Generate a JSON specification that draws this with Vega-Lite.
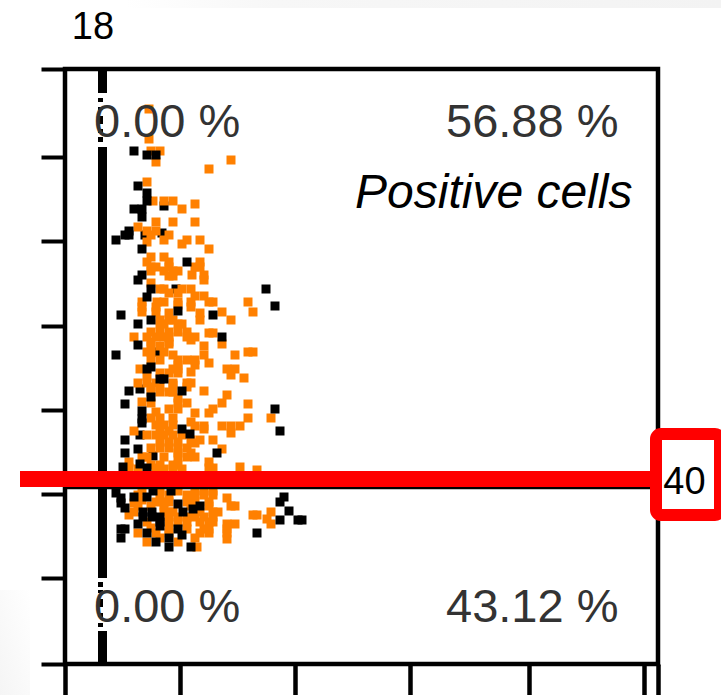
{
"$schema":"https://vega.github.io/schema/vega-lite/v6.json",
"width":593,"height":595,
"autosize":"none",
"padding":{"left":65,"top":69,"right":63,"bottom":31},
"background":"white",
"view":{"stroke":"#000","strokeWidth":4.5},
"datasets":{"pts":[
{"x":99,"y":458,"s":"k"},{"x":80,"y":429,"s":"k"},{"x":97,"y":431,"s":"k"},{"x":111,"y":375,"s":"k"},{"x":91,"y":312,"s":"k"},{"x":75,"y":229,"s":"k"},{"x":75,"y":275,"s":"k"},{"x":88,"y":208,"s":"k"},
{"x":84,"y":555,"s":"o"},{"x":84,"y":525,"s":"o"},{"x":86,"y":513,"s":"o"},{"x":95,"y":513,"s":"o"},{"x":91,"y":502,"s":"o"},{"x":166,"y":504,"s":"o"},{"x":144,"y":495,"s":"o"},{"x":82,"y":482,"s":"o"},{"x":88,"y":463,"s":"o"},{"x":99,"y":463,"s":"o"},{"x":108,"y":463,"s":"o"},{"x":130,"y":460,"s":"o"},{"x":117,"y":455,"s":"o"},{"x":91,"y":442,"s":"o"},{"x":108,"y":442,"s":"o"},{"x":130,"y":442,"s":"o"},{"x":73,"y":437,"s":"o"},{"x":82,"y":433,"s":"o"},{"x":91,"y":433,"s":"o"},{"x":86,"y":429,"s":"o"},{"x":104,"y":429,"s":"o"},{"x":99,"y":424,"s":"o"},{"x":82,"y":422,"s":"o"},{"x":122,"y":424,"s":"o"},{"x":135,"y":424,"s":"o"},{"x":117,"y":420,"s":"o"},{"x":144,"y":415,"s":"o"},{"x":86,"y":407,"s":"o"},{"x":99,"y":407,"s":"o"},{"x":82,"y":402,"s":"o"},{"x":104,"y":402,"s":"o"},{"x":135,"y":402,"s":"o"},{"x":86,"y":397,"s":"o"},{"x":91,"y":397,"s":"o"},{"x":104,"y":397,"s":"o"},{"x":130,"y":397,"s":"o"},{"x":135,"y":397,"s":"o"},{"x":86,"y":393,"s":"o"},{"x":99,"y":393,"s":"o"},{"x":108,"y":393,"s":"o"},{"x":113,"y":393,"s":"o"},{"x":127,"y":389,"s":"o"},{"x":139,"y":389,"s":"o"},{"x":104,"y":388,"s":"o"},{"x":108,"y":388,"s":"o"},{"x":86,"y":381,"s":"o"},{"x":139,"y":384,"s":"o"},{"x":95,"y":375,"s":"o"},{"x":99,"y":375,"s":"o"},{"x":117,"y":375,"s":"o"},{"x":126,"y":375,"s":"o"},{"x":104,"y":371,"s":"o"},{"x":113,"y":371,"s":"o"},{"x":130,"y":368,"s":"o"},{"x":139,"y":368,"s":"o"},{"x":77,"y":362,"s":"o"},{"x":92,"y":362,"s":"o"},{"x":99,"y":362,"s":"o"},{"x":113,"y":362,"s":"o"},{"x":126,"y":362,"s":"o"},{"x":144,"y":362,"s":"o"},{"x":148,"y":362,"s":"o"},{"x":183,"y":362,"s":"o"},{"x":77,"y":357,"s":"o"},{"x":91,"y":357,"s":"o"},{"x":113,"y":359,"s":"o"},{"x":126,"y":357,"s":"o"},{"x":77,"y":352,"s":"o"},{"x":91,"y":352,"s":"o"},{"x":104,"y":351,"s":"o"},{"x":135,"y":351,"s":"o"},{"x":157,"y":352,"s":"o"},{"x":188,"y":352,"s":"o"},{"x":95,"y":344,"s":"o"},{"x":104,"y":344,"s":"o"},{"x":108,"y":344,"s":"o"},{"x":135,"y":344,"s":"o"},{"x":166,"y":344,"s":"o"},{"x":95,"y":340,"s":"o"},{"x":99,"y":340,"s":"o"},{"x":113,"y":340,"s":"o"},{"x":117,"y":340,"s":"o"},{"x":86,"y":332,"s":"o"},{"x":95,"y":332,"s":"o"},{"x":104,"y":332,"s":"o"},{"x":113,"y":332,"s":"o"},{"x":122,"y":332,"s":"o"},{"x":144,"y":331,"s":"o"},{"x":148,"y":331,"s":"o"},{"x":69,"y":327,"s":"o"},{"x":82,"y":327,"s":"o"},{"x":91,"y":327,"s":"o"},{"x":99,"y":327,"s":"o"},{"x":104,"y":327,"s":"o"},{"x":122,"y":327,"s":"o"},{"x":130,"y":327,"s":"o"},
{"x":86,"y":322,"s":"o"},{"x":104,"y":322,"s":"o"},{"x":126,"y":324,"s":"o"},{"x":157,"y":320,"s":"o"},{"x":86,"y":318,"s":"o"},{"x":95,"y":318,"s":"o"},{"x":104,"y":320,"s":"o"},{"x":139,"y":318,"s":"o"},{"x":82,"y":312,"s":"o"},{"x":86,"y":312,"s":"o"},{"x":99,"y":312,"s":"o"},{"x":139,"y":309,"s":"o"},{"x":170,"y":309,"s":"o"},{"x":183,"y":312,"s":"o"},{"x":188,"y":312,"s":"o"},{"x":108,"y":309,"s":"o"},{"x":86,"y":304,"s":"o"},{"x":95,"y":304,"s":"o"},{"x":113,"y":304,"s":"o"},{"x":122,"y":304,"s":"o"},{"x":130,"y":304,"s":"o"},{"x":144,"y":301,"s":"o"},{"x":113,"y":299,"s":"o"},{"x":130,"y":299,"s":"o"},{"x":75,"y":295,"s":"o"},{"x":108,"y":295,"s":"o"},{"x":113,"y":295,"s":"o"},{"x":126,"y":292,"s":"o"},{"x":162,"y":295,"s":"o"},{"x":170,"y":295,"s":"o"},{"x":95,"y":291,"s":"o"},{"x":104,"y":291,"s":"o"},{"x":113,"y":291,"s":"o"},{"x":166,"y":289,"s":"o"},{"x":179,"y":286,"s":"o"},{"x":82,"y":288,"s":"o"},{"x":73,"y":281,"s":"o"},{"x":82,"y":281,"s":"o"},{"x":91,"y":281,"s":"o"},{"x":108,"y":281,"s":"o"},{"x":122,"y":281,"s":"o"},{"x":126,"y":281,"s":"o"},{"x":86,"y":277,"s":"o"},{"x":95,"y":277,"s":"o"},{"x":108,"y":279,"s":"o"},{"x":122,"y":277,"s":"o"},{"x":86,"y":272,"s":"o"},{"x":95,"y":272,"s":"o"},{"x":104,"y":272,"s":"o"},{"x":108,"y":272,"s":"o"},{"x":139,"y":273,"s":"o"},{"x":162,"y":269,"s":"o"},{"x":77,"y":262,"s":"o"},{"x":86,"y":261,"s":"o"},{"x":113,"y":266,"s":"o"},{"x":113,"y":261,"s":"o"},{"x":122,"y":261,"s":"o"},{"x":157,"y":261,"s":"o"},{"x":183,"y":260,"s":"o"},{"x":104,"y":255,"s":"o"},{"x":113,"y":255,"s":"o"},{"x":148,"y":255,"s":"o"},{"x":91,"y":252,"s":"o"},{"x":130,"y":251,"s":"o"},{"x":144,"y":251,"s":"o"},{"x":86,"y":246,"s":"o"},{"x":95,"y":246,"s":"o"},{"x":108,"y":246,"s":"o"},{"x":126,"y":242,"s":"o"},{"x":183,"y":246,"s":"o"},{"x":206,"y":246,"s":"o"},{"x":91,"y":239,"s":"o"},{"x":99,"y":239,"s":"o"},{"x":108,"y":239,"s":"o"},{"x":139,"y":238,"s":"o"},{"x":157,"y":238,"s":"o"},{"x":166,"y":238,"s":"o"},{"x":175,"y":238,"s":"o"},{"x":130,"y":238,"s":"o"},{"x":69,"y":233,"s":"o"},{"x":95,"y":233,"s":"o"},{"x":104,"y":233,"s":"o"},{"x":166,"y":231,"s":"o"},{"x":139,"y":235,"s":"o"},{"x":82,"y":229,"s":"o"},{"x":91,"y":229,"s":"o"},{"x":99,"y":229,"s":"o"},{"x":108,"y":229,"s":"o"},{"x":117,"y":229,"s":"o"},{"x":135,"y":224,"s":"o"},{"x":148,"y":224,"s":"o"},{"x":126,"y":224,"s":"o"},{"x":95,"y":222,"s":"o"},{"x":104,"y":222,"s":"o"},{"x":113,"y":222,"s":"o"},{"x":130,"y":221,"s":"o"},{"x":86,"y":216,"s":"o"},{"x":95,"y":216,"s":"o"},{"x":104,"y":216,"s":"o"},{"x":113,"y":216,"s":"o"},{"x":122,"y":216,"s":"o"},{"x":157,"y":215,"s":"o"},{"x":113,"y":211,"s":"o"},{"x":126,"y":211,"s":"o"},{"x":77,"y":207,"s":"o"},{"x":82,"y":207,"s":"o"},{"x":99,"y":207,"s":"o"},{"x":113,"y":207,"s":"o"},{"x":122,"y":207,"s":"o"},{"x":130,"y":207,"s":"o"},{"x":64,"y":202,"s":"o"},{"x":144,"y":202,"s":"o"},{"x":86,"y":199,"s":"o"},{"x":95,"y":199,"s":"o"},{"x":108,"y":199,"s":"o"},{"x":113,"y":199,"s":"o"},{"x":64,"y":196,"s":"o"},{"x":73,"y":195,"s":"o"},{"x":91,"y":196,"s":"o"},{"x":99,"y":195,"s":"o"},{"x":108,"y":195,"s":"o"},{"x":117,"y":195,"s":"o"},{"x":144,"y":196,"s":"o"},{"x":148,"y":196,"s":"o"},{"x":175,"y":197,"s":"o"},{"x":192,"y":194,"s":"o"},
{"x":77,"y":173,"s":"o"},{"x":95,"y":173,"s":"o"},{"x":113,"y":173,"s":"o"},{"x":130,"y":173,"s":"o"},{"x":139,"y":173,"s":"o"},{"x":148,"y":173,"s":"o"},{"x":73,"y":169,"s":"o"},{"x":95,"y":169,"s":"o"},{"x":104,"y":169,"s":"o"},{"x":122,"y":169,"s":"o"},{"x":130,"y":169,"s":"o"},{"x":139,"y":169,"s":"o"},{"x":148,"y":169,"s":"o"},{"x":162,"y":166,"s":"o"},{"x":69,"y":161,"s":"o"},{"x":77,"y":164,"s":"o"},{"x":91,"y":162,"s":"o"},{"x":99,"y":162,"s":"o"},{"x":104,"y":162,"s":"o"},{"x":122,"y":162,"s":"o"},{"x":130,"y":163,"s":"o"},{"x":144,"y":162,"s":"o"},{"x":73,"y":158,"s":"o"},{"x":86,"y":158,"s":"o"},{"x":99,"y":158,"s":"o"},{"x":126,"y":158,"s":"o"},{"x":144,"y":158,"s":"o"},{"x":166,"y":158,"s":"o"},{"x":170,"y":158,"s":"o"},{"x":64,"y":149,"s":"o"},{"x":69,"y":152,"s":"o"},{"x":99,"y":152,"s":"o"},{"x":104,"y":152,"s":"o"},{"x":108,"y":152,"s":"o"},{"x":135,"y":152,"s":"o"},{"x":148,"y":152,"s":"o"},{"x":153,"y":152,"s":"o"},{"x":188,"y":149,"s":"o"},{"x":192,"y":149,"s":"o"},{"x":206,"y":152,"s":"o"},{"x":104,"y":147,"s":"o"},{"x":113,"y":147,"s":"o"},{"x":122,"y":147,"s":"o"},{"x":130,"y":147,"s":"o"},{"x":139,"y":147,"s":"o"},{"x":148,"y":147,"s":"o"},{"x":202,"y":145,"s":"o"},{"x":82,"y":142,"s":"o"},{"x":104,"y":142,"s":"o"},{"x":113,"y":142,"s":"o"},{"x":122,"y":142,"s":"o"},{"x":135,"y":142,"s":"o"},{"x":144,"y":142,"s":"o"},{"x":148,"y":142,"s":"o"},{"x":162,"y":140,"s":"o"},{"x":170,"y":140,"s":"o"},{"x":206,"y":140,"s":"o"},{"x":86,"y":136,"s":"o"},{"x":104,"y":135,"s":"o"},{"x":122,"y":135,"s":"o"},{"x":139,"y":135,"s":"o"},{"x":144,"y":135,"s":"o"},{"x":162,"y":135,"s":"o"},{"x":73,"y":131,"s":"o"},{"x":91,"y":131,"s":"o"},{"x":104,"y":131,"s":"o"},{"x":135,"y":131,"s":"o"},{"x":144,"y":131,"s":"o"},{"x":162,"y":131,"s":"o"},{"x":82,"y":122,"s":"o"},{"x":95,"y":126,"s":"o"},{"x":113,"y":122,"s":"o"},{"x":130,"y":126,"s":"o"},{"x":162,"y":125,"s":"o"},{"x":132,"y":117,"s":"o"},
{"x":69,"y":513,"s":"k"},{"x":82,"y":509,"s":"k"},{"x":91,"y":509,"s":"k"},{"x":73,"y":478,"s":"k"},{"x":82,"y":471,"s":"k"},{"x":82,"y":463,"s":"k"},{"x":69,"y":455,"s":"k"},{"x":77,"y":455,"s":"k"},{"x":77,"y":447,"s":"k"},{"x":64,"y":433,"s":"k"},{"x":60,"y":429,"s":"k"},{"x":64,"y":429,"s":"k"},{"x":51,"y":424,"s":"k"},{"x":77,"y":415,"s":"k"},{"x":122,"y":402,"s":"k"},{"x":77,"y":389,"s":"k"},{"x":73,"y":384,"s":"k"},{"x":86,"y":375,"s":"k"},{"x":201,"y":375,"s":"k"},{"x":82,"y":367,"s":"k"},{"x":210,"y":358,"s":"k"},{"x":113,"y":353,"s":"k"},{"x":56,"y":349,"s":"k"},{"x":148,"y":349,"s":"k"},{"x":86,"y":344,"s":"k"},{"x":73,"y":340,"s":"k"},{"x":157,"y":327,"s":"k"},
{"x":73,"y":319,"s":"k"},{"x":51,"y":309,"s":"k"},{"x":82,"y":295,"s":"k"},{"x":86,"y":297,"s":"k"},{"x":99,"y":285,"s":"k"},{"x":95,"y":285,"s":"k"},{"x":64,"y":273,"s":"k"},{"x":117,"y":273,"s":"k"},{"x":86,"y":267,"s":"k"},{"x":60,"y":260,"s":"k"},{"x":77,"y":253,"s":"k"},{"x":77,"y":245,"s":"k"},{"x":77,"y":241,"s":"k"},{"x":210,"y":255,"s":"k"},{"x":117,"y":235,"s":"k"},{"x":125,"y":230,"s":"k"},{"x":215,"y":233,"s":"k"},{"x":60,"y":224,"s":"k"},{"x":73,"y":215,"s":"k"},{"x":60,"y":211,"s":"k"},{"x":152,"y":211,"s":"k"},{"x":58,"y":197,"s":"k"},{"x":75,"y":200,"s":"k"},{"x":82,"y":196,"s":"k"},
{"x":51,"y":171,"s":"k"},{"x":56,"y":166,"s":"k"},{"x":69,"y":167,"s":"k"},{"x":82,"y":167,"s":"k"},{"x":88,"y":173,"s":"k"},{"x":106,"y":173,"s":"k"},{"x":56,"y":161,"s":"k"},{"x":60,"y":156,"s":"k"},{"x":113,"y":160,"s":"k"},{"x":135,"y":158,"s":"k"},{"x":128,"y":155,"s":"k"},{"x":118,"y":152,"s":"k"},{"x":78,"y":152,"s":"k"},{"x":87,"y":152,"s":"k"},{"x":78,"y":147,"s":"k"},{"x":87,"y":147,"s":"k"},{"x":95,"y":147,"s":"k"},{"x":95,"y":142,"s":"k"},{"x":73,"y":140,"s":"k"},{"x":95,"y":138,"s":"k"},{"x":56,"y":135,"s":"k"},{"x":60,"y":135,"s":"k"},{"x":56,"y":126,"s":"k"},{"x":82,"y":131,"s":"k"},{"x":113,"y":135,"s":"k"},{"x":117,"y":129,"s":"k"},{"x":91,"y":122,"s":"k"},{"x":104,"y":126,"s":"k"},{"x":104,"y":117,"s":"k"},{"x":126,"y":117,"s":"k"},{"x":219,"y":167,"s":"k"},{"x":215,"y":162,"s":"k"},{"x":224,"y":153,"s":"k"},{"x":215,"y":144,"s":"k"},{"x":233,"y":144,"s":"k"},{"x":237,"y":144,"s":"k"},{"x":192,"y":131,"s":"k"}
]},
"encoding":{
"x":{"field":"x","type":"quantitative","title":null,"scale":{"domain":[0,593],"nice":false,"zero":false},
"axis":{"orient":"bottom","values":[0,115,230,345,464,579,593],"labels":false,"domain":false,"grid":false,"title":null,"tickSize":32,"tickWidth":4.5,"tickColor":"#000"}},
"y":{"field":"y","type":"quantitative","title":null,"scale":{"domain":[0,595],"nice":false,"zero":false},
"axis":{"orient":"left","values":[0,86,170,254,338,423,507,595],"labels":false,"domain":false,"grid":false,"title":null,"tickSize":24,"tickWidth":4,"tickColor":"#000"}}
},
"layer":[
{"data":{"values":[{"x":60,"y":664,"x2":656,"y2":656}]},
 "mark":{"type":"rect","clip":false,"color":{"gradient":"linear","x1":0,"y1":0,"x2":1,"y2":0,"stops":[{"offset":0,"color":"#ffffff"},{"offset":0.25,"color":"#f7f7f7"},{"offset":1,"color":"#f3f3f3"}]}},
 "encoding":{"x2":{"field":"x2"},"y2":{"field":"y2"}}},
{"data":{"values":[{"x":-65,"y":74,"x2":-35,"y2":-31}]},
 "mark":{"type":"rect","clip":false,"color":{"gradient":"linear","x1":0,"y1":1,"x2":1,"y2":0,"stops":[{"offset":0,"color":"#f5f5f5"},{"offset":1,"color":"#ffffff"}]}},
 "encoding":{"x2":{"field":"x2"},"y2":{"field":"y2"}}},
{"data":{"values":[{"x":37.5,"y":593,"y2":571},{"x":37.5,"y":517,"y2":86},{"x":37.5,"y":33,"y2":0}]},
 "mark":{"type":"rule","color":"#000","strokeWidth":9},
 "encoding":{"y2":{"field":"y2"}}},
{"data":{"values":[{"x":35.5,"y":566,"y2":562},{"x":35.5,"y":557,"y2":554},{"x":35.5,"y":548,"y2":540},{"x":35.5,"y":535,"y2":531},{"x":35.5,"y":527,"y2":522},{"x":35.5,"y":82,"y2":77},{"x":35.5,"y":74,"y2":71},{"x":35.5,"y":65,"y2":57},{"x":35.5,"y":51,"y2":47},{"x":35.5,"y":41,"y2":37}]},
 "mark":{"type":"rule","color":"#000","strokeWidth":5},
 "encoding":{"y2":{"field":"y2"}}},
{"data":{"name":"pts"},
 "mark":{"type":"square","filled":true,"size":81,"opacity":1},
 "encoding":{"color":{"field":"s","type":"nominal","legend":null,"scale":{"domain":["k","o"],"range":["#000000","#ff8000"]}}}},
{"data":{"values":[{"x":0,"x2":590,"y":176}]},
 "mark":{"type":"rule","color":"#000","strokeWidth":2.5},
 "encoding":{"x2":{"field":"x2"}}},
{"data":{"values":[{"x":-45,"x2":590,"y":185}]},
 "mark":{"type":"rule","color":"#ff0000","strokeWidth":16},
 "encoding":{"x2":{"field":"x2"}}},
{"data":{"values":[{"x":591,"x2":655,"y":230,"y2":149}]},
 "mark":{"type":"rect","fill":"#ffffff","stroke":"#ff0000","strokeWidth":12,"cornerRadius":5,"clip":false},
 "encoding":{"x2":{"field":"x2"},"y2":{"field":"y2"}}},
{"data":{"values":[{"x":29,"y":527,"t":"0.00 %"},{"x":29,"y":42,"t":"0.00 %"},{"x":381,"y":527,"t":"56.88 %"},{"x":381,"y":42,"t":"43.12 %"}]},
 "mark":{"type":"text","font":"Liberation Sans","fontSize":47,"color":"#333333","align":"left","baseline":"alphabetic"},
 "encoding":{"text":{"field":"t"}}},
{"data":{"values":[{"x":290,"y":456,"t":"Positive cells"}]},
 "mark":{"type":"text","font":"Liberation Sans","fontStyle":"italic","fontSize":48,"color":"#000","align":"left","baseline":"alphabetic"},
 "encoding":{"text":{"field":"t"}}},
{"data":{"values":[{"x":28,"y":625,"t":"18"},{"x":619.5,"y":170,"t":"40"}]},
 "mark":{"type":"text","font":"Liberation Sans","fontSize":38,"color":"#000","align":"center","baseline":"alphabetic","clip":false},
 "encoding":{"text":{"field":"t"}}}
]
}
